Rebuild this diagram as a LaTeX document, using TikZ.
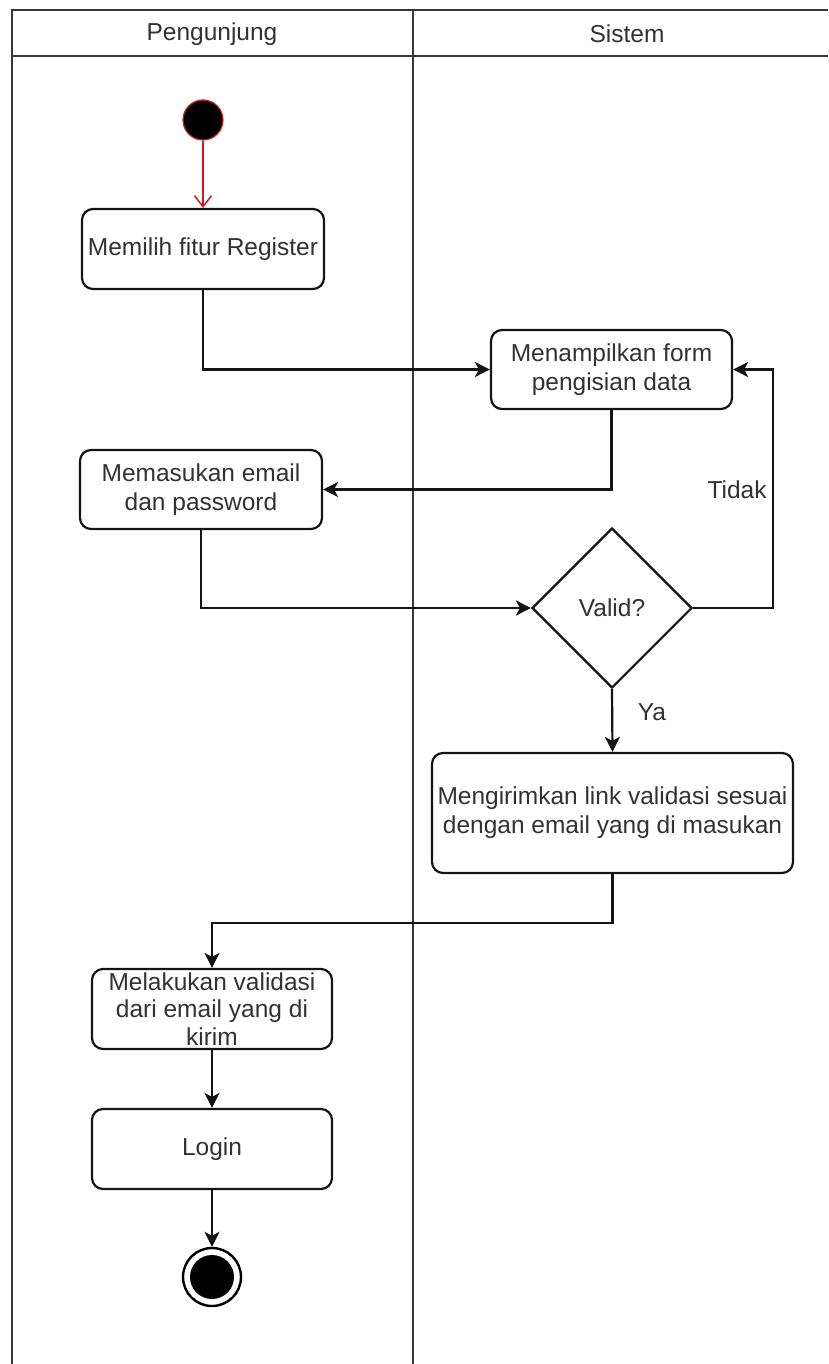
\documentclass[tikz,border=0pt]{standalone}
\usepackage{fontspec}
\setmainfont{Liberation Sans}
\usetikzlibrary{shapes.geometric,arrows.meta}
\definecolor{txt}{RGB}{50,50,50}
\definecolor{ln}{RGB}{20,20,20}
\definecolor{startred}{RGB}{200,30,30}
\begin{document}
\begin{tikzpicture}[x=1pt,y=-1pt,
  every node/.style={font=\fontsize{24.5}{29}\selectfont, text=txt},
  act/.style={draw=ln, line width=2.2pt, rounded corners=11pt, align=center, inner sep=2pt},
  flow/.style={draw=ln, line width=2.2pt, -{Stealth[length=15pt,width=15pt,inset=4pt]}},
  lane/.style={draw=ln!85, line width=2.2pt}
]
\useasboundingbox (0,0) rectangle (828,1364);
% swimlane frame
\draw[lane] (12,1364) -- (12,10) -- (828,10);
\draw[lane] (12,56) -- (828,56);
\draw[lane] (413,10) -- (413,1364);
\node (h1) at (212,34) {Pengunjung};
\node (h2) at (627,34) {Sistem};
% nodes
\node[circle, fill=black, draw=startred, line width=1.2pt, minimum size=40pt, inner sep=0pt] (start) at (203,120) {};
\node[act, minimum width=242pt, minimum height=80pt] (b1) at (203,249) {Memilih fitur Register};
\node[act, minimum width=241pt, minimum height=79pt] (b2) at (611.5,369.5) {Menampilkan form\\pengisian data};
\node[act, minimum width=242pt, minimum height=79pt] (b3) at (201,489.5) {Memasukan email\\dan password};
\node[diamond, draw=ln, line width=2.2pt, minimum width=160pt, minimum height=160pt, inner sep=0pt] (dia) at (612,608) {Valid?};
\node[act, minimum width=361pt, minimum height=120pt] (b4) at (612.5,813) {Mengirimkan link validasi sesuai\\dengan email yang di masukan};
\node[act, minimum width=240pt, minimum height=80pt, font=\fontsize{24.5}{27.5}\selectfont] (b5) at (212,1009) {Melakukan validasi\\dari email yang di\\kirim};
\node[act, minimum width=240pt, minimum height=80pt] (b6) at (212,1149) {Login};
\node[circle, draw=black, line width=2.4pt, minimum size=58pt, inner sep=0pt] (end) at (212,1277) {};
\node[circle, fill=black, minimum size=44pt, inner sep=0pt] (endin) at (end.center) {};
% connectors
\draw[draw=startred, line width=1.5pt, -{Straight Barb[length=11pt,width=17pt]}] (start) -- (b1.north);
\draw[flow] (b1.south) |- (b2.west);
\draw[flow] (b2.south) |- (b3.east);
\draw[flow] (b3.south) |- (dia.west);
\draw[flow] (dia.east) -| ([xshift=40pt]b2.east) -- (b2.east);
\draw[flow] (dia.south) -- (b4.north);
\draw[flow] (b4.south) -- ++(0,49) -| (b5.north);
\draw[flow] (b5.south) -- (b6.north);
\draw[flow] (b6.south) -- (end.north);
% labels
\node (tidak) at (737,490) {Tidak};
\node (ya) at (652,712) {Ya};
\end{tikzpicture}
\end{document}
